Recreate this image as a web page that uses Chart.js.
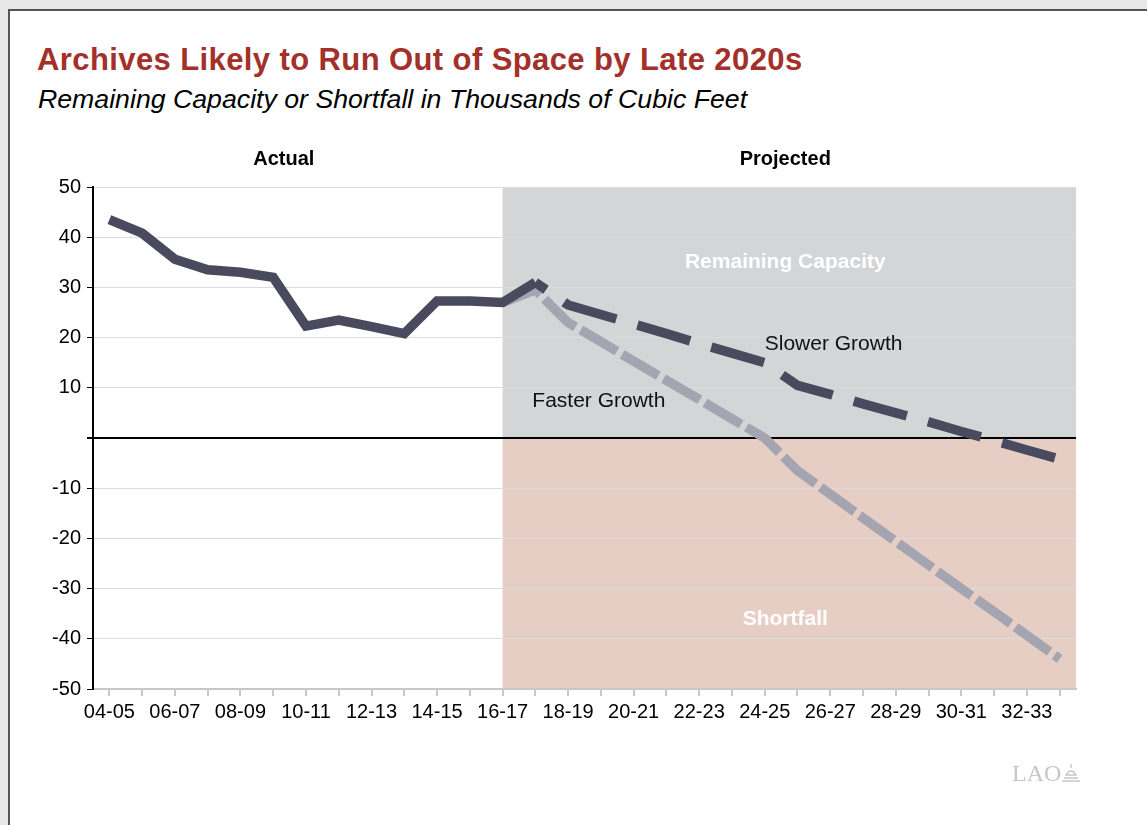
<!DOCTYPE html>
<html>
<head>
<meta charset="utf-8">
<title>Archives Likely to Run Out of Space by Late 2020s</title>
<script src="https://cdn.jsdelivr.net/npm/chart.js@4.4.1/dist/chart.umd.min.js"></script>
<style>
    html, body { margin: 0; padding: 0; }
    body {
        width: 1147px; height: 825px; overflow: hidden; position: relative;
        background: #e6e7e8;
        font-family: "Liberation Sans", Arial, Helvetica, sans-serif;
    }
    #panel {
        position: absolute; left: 8px; top: 9px; width: 1160px; height: 840px;
        background: #fff; border-left: 2px solid #555; border-top: 2px solid #555;
    }
    #title {
        position: absolute; left: 37px; top: 45px; white-space: nowrap;
        font-size: 31px; line-height: 30px; font-weight: bold; color: #a3302a;
        letter-spacing: 0.4px;
    }
    #subtitle {
        position: absolute; left: 38px; top: 86px; white-space: nowrap;
        font-size: 26.7px; line-height: 26px; font-style: italic; color: #000;
    }
    #chart-wrap { position: absolute; left: 0; top: 0; width: 1147px; height: 825px; }
    #logo {
        position: absolute; left: 1012px; top: 760px; white-space: nowrap;
        font-family: "Liberation Serif", "DejaVu Serif", serif; font-size: 24px; line-height: 26px;
        color: #c6c6c6;
    }
    #logo svg { vertical-align: -2px; margin-left: -2px; }
</style>
</head>
<body>
<div id="panel"></div>
<div id="title">Archives Likely to Run Out of Space by Late 2020s</div>
<div id="subtitle">Remaining Capacity or Shortfall in Thousands of Cubic Feet</div>
<div id="chart-wrap"><canvas id="chart" width="1147" height="825"></canvas></div>
<div id="logo">LAO<svg width="22" height="20" viewBox="0 0 22 20">
    <path d="M3 18 H21 M5 15 H19 M7 12 Q12 4 17 12 Z M12 5 V1" stroke="#c6c6c6" stroke-width="1.4" fill="none"/>
</svg></div>

<script>
// Fiscal years (category axis)
const years = ['04-05', '05-06', '06-07', '07-08', '08-09', '09-10', '10-11', '11-12', '12-13', '13-14',
    '14-15', '15-16', '16-17', '17-18', '18-19', '19-20', '20-21', '21-22', '22-23', '23-24',
    '24-25', '25-26', '26-27', '27-28', '28-29', '29-30', '30-31', '31-32', '32-33', '33-34'];

// Remaining capacity (+) or shortfall (-), thousands of cubic feet
const actual = [43.5, 40.8, 35.6, 33.5, 33.0, 32.0, 22.3, 23.5, 22.2, 20.8,
    27.3, 27.3, 27.0, 31.0, null, null, null, null, null, null,
    null, null, null, null, null, null, null, null, null, null];

const slowerGrowth = [null, null, null, null, null, null, null, null, null, null,
    null, null, null, 31.0, 26.5, 24.6, 22.7, 20.8, 18.8, 16.9,
    15.0, 10.5, 8.7, 6.8, 5.0, 3.2, 1.3, -0.5, -2.4, -4.2];

const fasterGrowth = [null, null, null, null, null, null, null, null, null, null,
    null, null, 27.0, 29.5, 23.0, 19.2, 15.3, 11.5, 7.7, 3.8,
    0.0, -6.5, -11.2, -15.9, -20.6, -25.3, -30.0, -34.6, -39.3, -44.0];

const yTicks = [-50, -40, -30, -20, -10, 0, 10, 20, 30, 40, 50];

const projectedFrom = years.indexOf('16-17');

const FONT = '"Liberation Sans", Arial, Helvetica, sans-serif';

// Shaded projected area + text annotations
const backdrop = {
    id: 'backdrop',
    beforeDraw(chart) {
        const { ctx, chartArea: a, scales: { x, y } } = chart;
        const x0 = x.getPixelForValue(projectedFrom);
        const y0 = y.getPixelForValue(0);
        ctx.save();
        ctx.fillStyle = '#d4d5d7';
        ctx.fillRect(x0, a.top, a.right - x0, y0 - a.top);
        ctx.fillStyle = '#e7cec5';
        ctx.fillRect(x0, y0, a.right - x0, a.bottom - y0);
        ctx.restore();
    },
    afterDraw(chart) {
        const { ctx, chartArea: a, scales: { x, y } } = chart;
        const x0 = x.getPixelForValue(projectedFrom);
        const projMid = (x0 + a.right) / 2 - 4;
        ctx.save();
        ctx.textBaseline = 'middle';
        ctx.textAlign = 'center';

        ctx.font = 'bold 20px ' + FONT;
        ctx.fillStyle = '#000';
        ctx.fillText('Actual', (a.left + x0) / 2 - 14, a.top - 28);
        ctx.fillText('Projected', projMid, a.top - 28);

        ctx.font = 'bold 21px ' + FONT;
        ctx.fillStyle = '#fff';
        ctx.fillText('Remaining Capacity', projMid, y.getPixelForValue(35));
        ctx.fillText('Shortfall', projMid, y.getPixelForValue(-36));

        ctx.font = '21px ' + FONT;
        ctx.fillStyle = '#111';
        ctx.textAlign = 'left';
        ctx.fillText('Slower Growth', x.getPixelForValue(years.indexOf('24-25')), y.getPixelForValue(18.7));
        ctx.fillText('Faster Growth', x.getPixelForValue(years.indexOf('17-18')) - 3, y.getPixelForValue(7.4));
        ctx.restore();
    }
};

new Chart(document.getElementById('chart'), {
    type: 'line',
    data: {
        labels: years,
        datasets: [
            {
                label: 'Actual',
                data: actual,
                borderColor: '#4a4a5e',
                borderWidth: 9.5,
                pointRadius: 0,
                tension: 0,
                order: 0
            },
            {
                label: 'Slower Growth',
                data: slowerGrowth,
                borderColor: '#4a4a5e',
                borderWidth: 9.5,
                borderDash: [55, 22],
                borderDashOffset: 42,
                pointRadius: 0,
                tension: 0,
                order: 1
            },
            {
                label: 'Faster Growth',
                data: fasterGrowth,
                borderColor: '#a4a5b1',
                borderWidth: 9.5,
                borderDash: [42, 6],
                pointRadius: 0,
                tension: 0,
                order: 2
            }
        ]
    },
    options: {
        responsive: false,
        animation: false,
        devicePixelRatio: 1,
        layout: { padding: { top: 187, right: 71, bottom: 91, left: 0 } },
        plugins: {
            legend: { display: false },
            tooltip: { enabled: false },
            title: { display: false }
        },
        scales: {
            x: {
                type: 'category',
                offset: true,
                afterFit(scale) { scale.height = 45; },
                border: { color: '#c8c8c8', width: 2 },
                grid: {
                    offset: false,
                    drawOnChartArea: false,
                    drawTicks: true,
                    tickLength: 7,
                    color: '#c8c8c8',
                    lineWidth: 2
                },
                ticks: {
                    autoSkip: false,
                    maxRotation: 0,
                    padding: 4,
                    color: '#000',
                    font: { family: FONT, size: 20 },
                    callback(value, index) {
                        return index % 2 === 0 ? this.getLabelForValue(value) : '';
                    }
                }
            },
            y: {
                min: yTicks[0],
                max: yTicks[yTicks.length - 1],
                afterFit(scale) { scale.width = 93; },
                afterBuildTicks(scale) { scale.ticks = yTicks.map(v => ({ value: v })); },
                border: { color: '#000', width: 2 },
                grid: {
                    color: ctx => (ctx.tick && ctx.tick.value === 0) ? '#000' : '#dcdcdc',
                    lineWidth: ctx => (ctx.tick && ctx.tick.value === 0) ? 2 : 1,
                    tickColor: '#000',
                    tickLength: 6
                },
                ticks: {
                    padding: 6,
                    color: '#000',
                    font: { family: FONT, size: 20 },
                    callback: v => v === 0 ? '' : v
                }
            }
        }
    },
    plugins: [backdrop]
});
</script>
</body>
</html>
